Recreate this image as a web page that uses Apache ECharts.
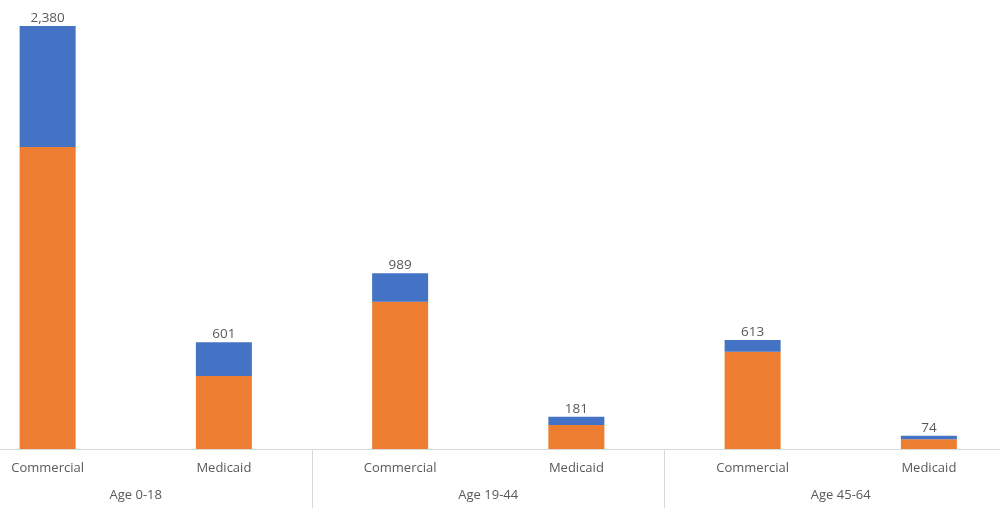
<!DOCTYPE html>
<html>
<head>
<meta charset="utf-8">
<script src="https://cdn.jsdelivr.net/npm/echarts@6/dist/echarts.min.js"></script>
<style>
html,body{margin:0;padding:0;background:#fff;}
#chart{width:1000px;height:508px;}
</style>
</head>
<body>
<div id="chart"></div>
<script>
const payers = ['Commercial', 'Medicaid', 'Commercial', 'Medicaid', 'Commercial', 'Medicaid'];
const ageGroups = ['Age 0-18', 'Age 19-44', 'Age 45-64'];
const orangeValues = [1699, 411, 829, 135, 547, 55];
const blueValues = [681, 190, 160, 46, 66, 19];

const totals = orangeValues.map((v, i) => v + blueValues[i]);
const textColor = '#595959';
const font = 'Open Sans';

const chart = echarts.init(document.getElementById('chart'));
chart.setOption({
  animation: false,
  grid: { left: -40.5, right: -17, top: 4.7, bottom: 59, containLabel: false, outerBoundsMode: 'none' },
  xAxis: [
    {
      type: 'category',
      data: payers,
      position: 'bottom',
      axisLine: { show: true, lineStyle: { color: '#d9d9d9', width: 1 } },
      axisTick: { show: false },
      axisLabel: { color: textColor, fontFamily: font, fontSize: 13, margin: 13, interval: 0 }
    },
    {
      type: 'category',
      data: ageGroups,
      position: 'bottom',
      axisLine: { show: false },
      axisTick: { show: true, length: 60, interval: 0, lineStyle: { color: '#d9d9d9', width: 1 } },
      axisLabel: { color: textColor, fontFamily: font, fontSize: 13, margin: 40, interval: 0 }
    }
  ],
  yAxis: { type: 'value', min: 0, max: 2500, show: false, splitLine: { show: false } },
  series: [
    {
      name: 'Orange',
      type: 'bar',
      stack: 'total',
      barWidth: 56,
      itemStyle: { color: '#ED7D31' },
      data: orangeValues
    },
    {
      name: 'Blue',
      type: 'bar',
      stack: 'total',
      barWidth: 56,
      itemStyle: { color: '#4472C4' },
      label: {
        show: true,
        position: 'top',
        distance: 1,
        color: textColor,
        fontFamily: font,
        fontSize: 13.5,
        formatter: p => totals[p.dataIndex].toLocaleString('en-US')
      },
      data: blueValues
    }
  ]
});
</script>
</body>
</html>
